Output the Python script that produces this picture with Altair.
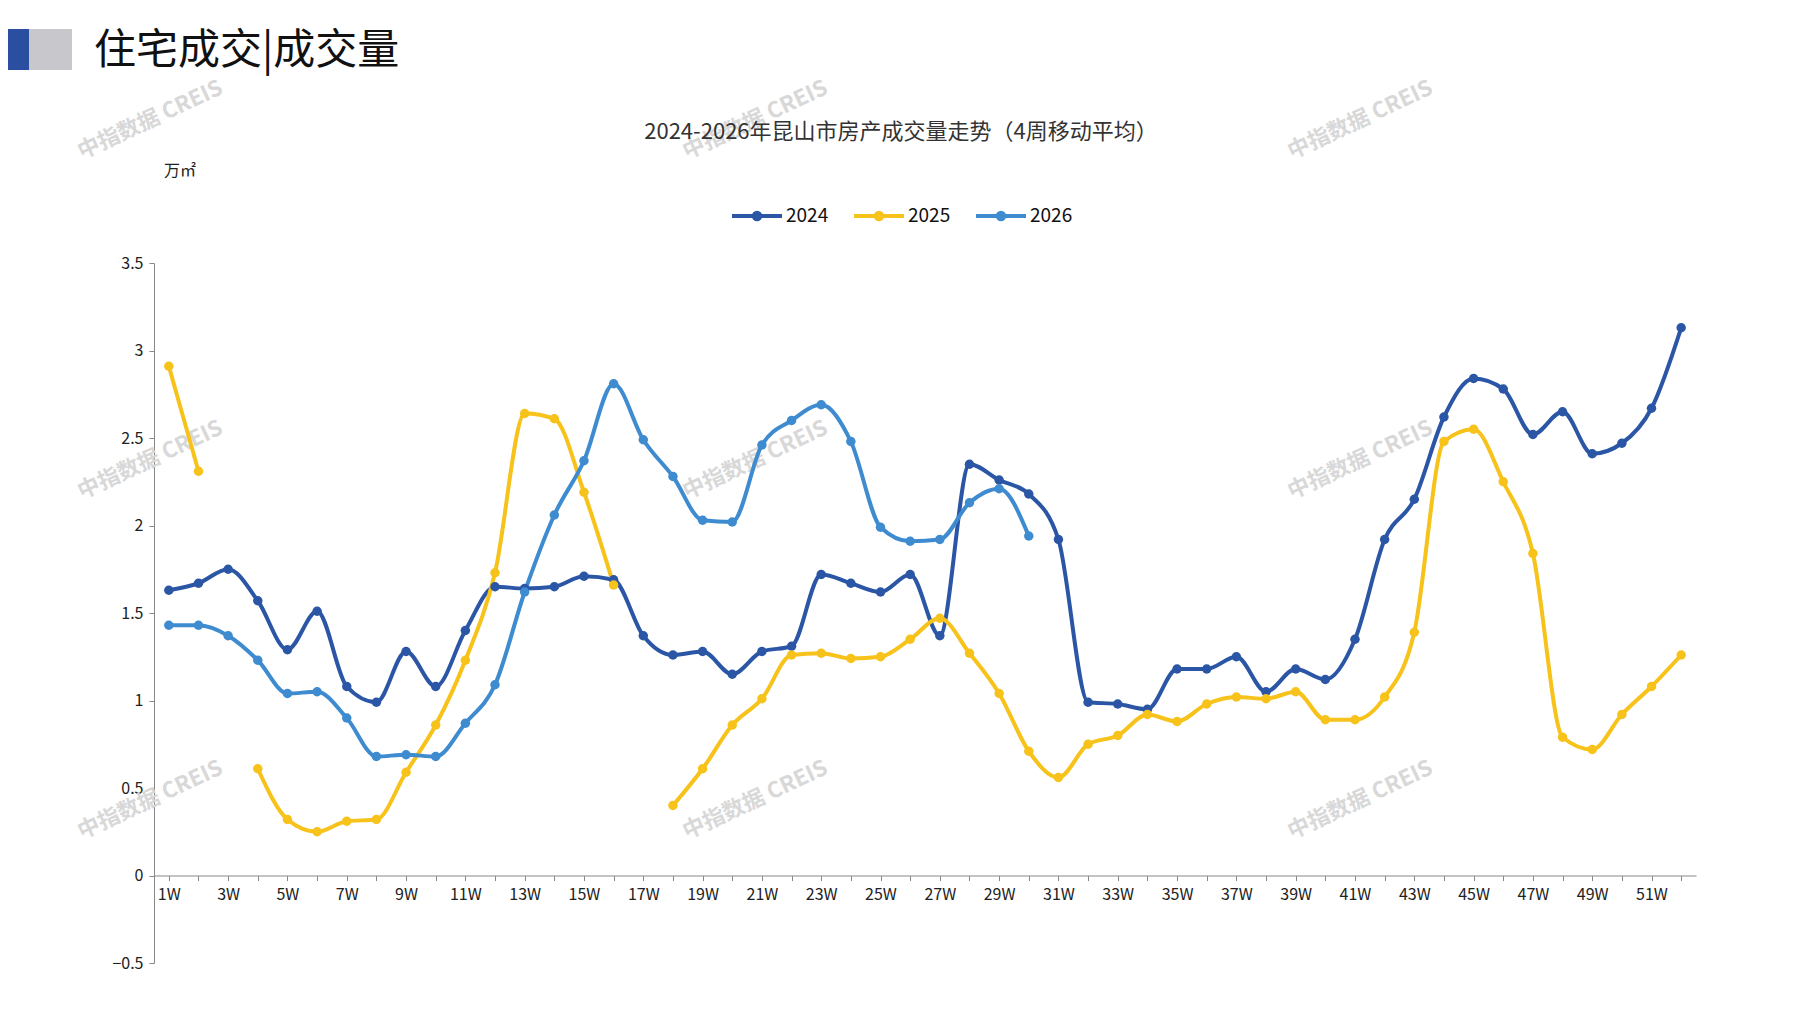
import altair as alt
import pandas as pd

weeks = [f"{i}W" for i in range(1, 53)]

v2024 = [1.63, 1.67, 1.75, 1.57, 1.29, 1.51, 1.08, 0.99, 1.28, 1.08, 1.40, 1.65, 1.64, 1.65,
         1.71, 1.69, 1.37, 1.26, 1.28, 1.15, 1.28, 1.31, 1.72, 1.67, 1.62, 1.72, 1.37, 2.35,
         2.26, 2.18, 1.92, 0.99, 0.98, 0.95, 1.18, 1.18, 1.25, 1.05, 1.18, 1.12, 1.35, 1.92,
         2.15, 2.62, 2.84, 2.78, 2.52, 2.65, 2.41, 2.47, 2.67, 3.13]
v2025 = [2.91, 2.31, None, 0.61, 0.32, 0.25, 0.31, 0.32, 0.59, 0.86, 1.23, 1.73, 2.64, 2.61,
         2.19, 1.66, None, 0.40, 0.61, 0.86, 1.01, 1.26, 1.27, 1.24, 1.25, 1.35, 1.47, 1.27,
         1.04, 0.71, 0.56, 0.75, 0.80, 0.92, 0.88, 0.98, 1.02, 1.01, 1.05, 0.89, 0.89, 1.02,
         1.39, 2.48, 2.55, 2.25, 1.84, 0.79, 0.72, 0.92, 1.08, 1.26]
v2026 = [1.43, 1.43, 1.37, 1.23, 1.04, 1.05, 0.90, 0.68, 0.69, 0.68, 0.87, 1.09, 1.62, 2.06,
         2.37, 2.81, 2.49, 2.28, 2.03, 2.02, 2.46, 2.60, 2.69, 2.48, 1.99, 1.91, 1.92, 2.13,
         2.21, 1.94]

years = ["2024", "2025", "2026"]
palette = ["#2B56A5", "#F7C21A", "#3E8BD0"]

rows = []
for name, vals in zip(years, [v2024, v2025, v2026]):
    seg = 0
    for w, v in zip(weeks, vals):
        if v is None:
            seg += 1
            continue
        rows.append({"week": w, "value": v, "year": name, "seg": f"{name}-{seg}"})
df = pd.DataFrame(rows)

FONT = "Noto Sans CJK SC"
colors = alt.Scale(domain=years, range=palette)

x = alt.X("week:O", sort=weeks, scale=alt.Scale(paddingOuter=0.2),
          axis=alt.Axis(title=None, labelAngle=0, offset=-87.5, labelFontSize=16, labelColor="#222",
                        labelExpr="parseInt(replace(datum.label,'W',''))%2==1 ? datum.label : ''",
                        domainColor="#888", tickColor="#888", labelFont=FONT, labelPadding=6))
y = alt.Y("value:Q", scale=alt.Scale(domain=[-0.5, 3.5]),
          axis=alt.Axis(title=None, values=[-0.5, 0, 0.5, 1, 1.5, 2, 2.5, 3, 3.5], grid=False,
                        format="~g", domainColor="#888", tickColor="#888", labelFontSize=16,
                        labelColor="#222", labelFont=FONT, labelPadding=6))

lines = alt.Chart(df).mark_line(interpolate="monotone", strokeWidth=4,
                                point=alt.OverlayMarkDef(size=90, filled=True, opacity=1)).encode(
    x=x, y=y, detail="seg:N", color=alt.Color("year:N", scale=colors, legend=None)
)

# manual legend (line + dot)
leg = pd.DataFrame([{"x": 578 + i * 122, "year": yv} for i, yv in enumerate(years)])
leg_line = alt.Chart(leg).mark_rule(strokeWidth=4).encode(
    x=alt.X("x:Q", scale=None), x2=alt.X2("x2:Q"), y=alt.value(-47),
    color=alt.Color("year:N", scale=colors, legend=None)).transform_calculate(x2="datum.x+50")
leg_pt = alt.Chart(leg).mark_point(filled=True, size=110, opacity=1).encode(
    x=alt.X("xc:Q", scale=None), y=alt.value(-47),
    color=alt.Color("year:N", scale=colors, legend=None)).transform_calculate(xc="datum.x+25")
leg_txt = alt.Chart(leg).mark_text(font=FONT, fontSize=19, align="left", color="#111").encode(
    x=alt.X("xt:Q", scale=None), y=alt.value(-47), text="year:N").transform_calculate(xt="datum.x+54")

texts = pd.DataFrame([
    {"x": -60, "y": -212, "t": "住宅成交|成交量", "s": 42, "c": "#111"},
    {"x": 10, "y": -92, "t": "万㎡", "s": 16, "c": "#222"},
])
other_t = alt.Chart(texts).mark_text(font=FONT, align="left").encode(
    x=alt.X("x:Q", scale=None), y=alt.Y("y:Q", scale=None), text="t:N",
    size=alt.Size("s:Q", scale=None), color=alt.Color("c:N", scale=None))
title_t = alt.Chart(pd.DataFrame([{"t": "2024-2026年昆山市房产成交量走势（4周移动平均）"}])).mark_text(
    font=FONT, fontSize=22, color="#333").encode(x=alt.value(747), y=alt.value(-131), text="t:N")

wm = []
for wx in [-75, 530, 1135]:
    for wy in [-110, 230, 570]:
        wm.append({"x": wx, "y": wy, "t": "中指数据 CREIS"})
wm_chart = alt.Chart(pd.DataFrame(wm)).mark_text(font=FONT, fontSize=22, angle=335, color="#d8d8d8",
                                                 fontWeight="bold", align="left").encode(
    x=alt.X("x:Q", scale=None), y=alt.Y("y:Q", scale=None), text="t:N")

boxes = pd.DataFrame([
    {"x": -154, "x2": -125, "y": -234, "y2": -193, "c": "#2B4FA0"},
    {"x": -125, "x2": -82, "y": -234, "y2": -193, "c": "#C8C8CC"},
])
box_chart = alt.Chart(boxes).mark_rect().encode(
    x=alt.X("x:Q", scale=None), x2="x2", y=alt.Y("y:Q", scale=None), y2="y2",
    color=alt.Color("c:N", scale=None))

chart = (wm_chart + lines + leg_line + leg_pt + leg_txt + title_t + other_t + box_chart).properties(
    width=1542, height=700, autosize=alt.AutoSizeParams(type="none"),
    padding={"left": 146, "top": 255, "right": 90, "bottom": 30}
).configure(background="white").configure_view(strokeWidth=0, stroke="transparent")

chart.save("out.html", embed_options={"renderer": "svg", "actions": False})
